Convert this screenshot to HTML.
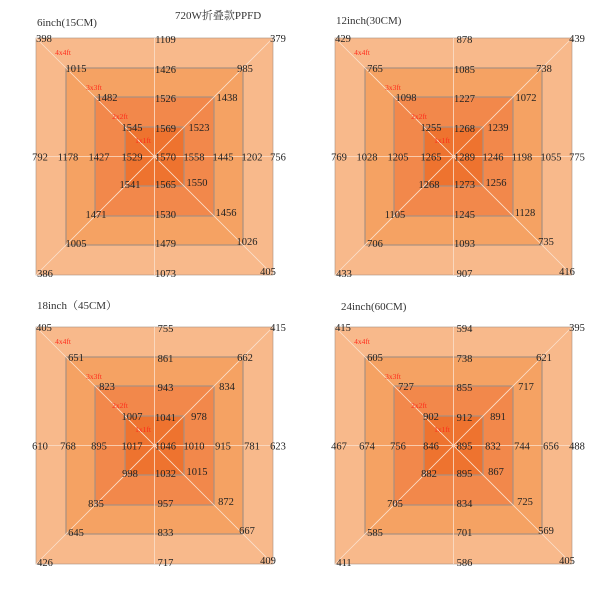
<!DOCTYPE html>
<html><head><meta charset="utf-8"><style>
body{margin:0;background:#fff;}
svg text{font-family:"Liberation Serif","Noto Serif CJK SC",serif;}
</style></head><body>
<svg id="s" width="600" height="585" xmlns="http://www.w3.org/2000/svg">
<text x="175" y="19" font-size="11" fill="#333">720W折叠款PPFD</text>
<text x="37" y="26" font-size="11" fill="#333">6inch(15CM)</text>
<text x="336" y="24" font-size="11" fill="#333">12inch(30CM)</text>
<text x="37" y="309" font-size="11" fill="#333">18inch（45CM）</text>
<text x="341" y="310" font-size="11" fill="#333">24inch(60CM)</text>
</svg>
<script>
const s=document.getElementById('s');
const NS='http://www.w3.org/2000/svg';
function el(t,a,txt){const e=document.createElementNS(NS,t);for(const k in a)e.setAttribute(k,a[k]);if(txt!==undefined)e.textContent=txt;s.appendChild(e);return e;}
const panels=[
 {ox:36,oy:38,d:[[398,1109,379,792,756,386,1073,405],[1015,1426,985,1178,1202,1005,1479,1026],[1482,1526,1438,1427,1445,1471,1530,1456],[1545,1569,1523,1529,1558,1541,1565,1550]],c:1570},
 {ox:335,oy:38,d:[[429,878,439,769,775,433,907,416],[765,1085,738,1028,1055,706,1093,735],[1098,1227,1072,1205,1198,1105,1245,1128],[1255,1268,1239,1265,1246,1268,1273,1256]],c:1289},
 {ox:36,oy:327,d:[[405,755,415,610,623,426,717,409],[651,861,662,768,781,645,833,667],[823,943,834,895,915,835,957,872],[1007,1041,978,1017,1010,998,1032,1015]],c:1046},
 {ox:335,oy:327,d:[[415,594,395,467,488,411,586,405],[605,738,621,674,656,585,701,569],[727,855,717,756,744,705,834,725],[902,912,891,846,832,882,895,867]],c:895}
];
const cols=['#f8b98b','#f5a263','#f2884b','#ee732f'];
const ins=[0,30,59,89];const W=237;
const labs=['4x4ft','3x3ft','2x2ft','1x1ft'];
// [tl,tr,bl,br,left,right] x offsets
const off=[[8,5,9,-5,4,5],[10,2,10,4,2,9],[12,13,1,12,4,9],[7,15,5,13,7,10]];
const rl=[[27,15],[28,20],[25,20],[18,14]];
panels.forEach(p=>{
 const cx=p.ox+W/2,cy=p.oy+W/2;
 for(let i=0;i<4;i++){const a=ins[i];
  el('rect',{x:p.ox+a,y:p.oy+a,width:W-2*a,height:W-2*a,fill:cols[i],stroke:'#a89080','stroke-width':i==0?0.6:1.2});}
 const L=p.ox,T=p.oy,R=p.ox+W,B=p.oy+W;
 const lc={stroke:'#fbe0cc','stroke-width':0.8};
 el('line',Object.assign({x1:L,y1:T,x2:R,y2:B},lc));
 el('line',Object.assign({x1:R,y1:T,x2:L,y2:B},lc));
 el('line',Object.assign({x1:cx,y1:T,x2:cx,y2:B},lc));
 el('line',Object.assign({x1:L,y1:cy,x2:R,y2:cy},lc));
 for(let i=0;i<4;i++){const a=ins[i],l=L+a,t=T+a,r=R-a,b=B-a,v=p.d[i],o=off[i];
  const pos=[[l+o[0],t+4],[cx+11,t+5],[r+o[1],t+4],[l+o[4],cy+4],[r+o[5],cy+4],[l+o[2],b+2],[cx+11,b+2],[r+o[3],b]];
  pos.forEach((q,j)=>el('text',{x:q[0],y:q[1],'font-size':10.5,fill:'#222','text-anchor':'middle'},v[j]));
  el('text',{x:l+rl[i][0],y:t+rl[i][1]+2,'font-size':7.5,fill:'#ff2a1a','text-anchor':'middle'},labs[i]);
 }
 el('text',{x:cx+11,y:cy+4,'font-size':10.5,fill:'#222','text-anchor':'middle'},p.c);
});
</script>
</body></html>
